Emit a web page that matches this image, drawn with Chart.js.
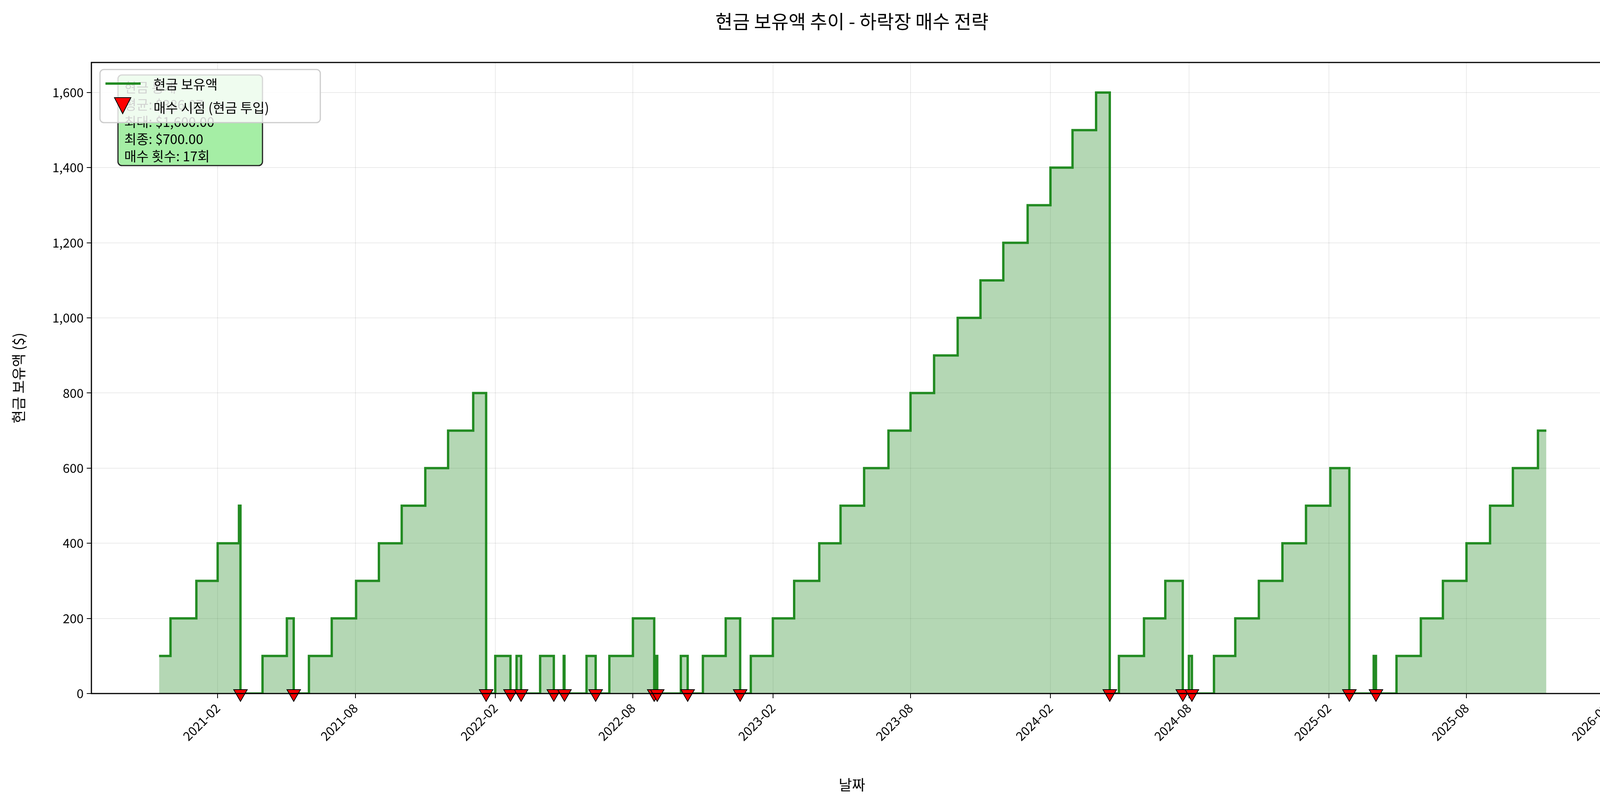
<!DOCTYPE html>
<html>
<head>
<meta charset="utf-8">
<script src="https://cdn.jsdelivr.net/npm/chart.js@4"></script>
<style>body{margin:0;background:#fff}</style>
</head>
<body>
<canvas id="grafico" width="4168" height="2064"></canvas>
<script>
// Datas em que o saldo muda e o saldo a partir dessa data
const datasSaldo = [
  "2020-11-16","2020-12-01","2021-01-04","2021-02-01","2021-03-01","2021-03-03",
  "2021-04-01","2021-05-03","2021-05-12",
  "2021-06-01","2021-07-01","2021-08-02","2021-09-01","2021-10-01","2021-11-01","2021-12-01","2022-01-03","2022-01-20",
  "2022-02-01","2022-02-21","2022-03-01","2022-03-07",
  "2022-04-01","2022-04-19","2022-05-02","2022-05-03",
  "2022-06-01","2022-06-13",
  "2022-07-01","2022-08-01","2022-08-29","2022-09-01","2022-09-02",
  "2022-10-03","2022-10-12",
  "2022-11-01","2022-12-01","2022-12-20",
  "2023-01-03","2023-02-01","2023-03-01","2023-04-03","2023-05-01","2023-06-01","2023-07-03","2023-08-01",
  "2023-09-01","2023-10-02","2023-11-01","2023-12-01","2024-01-02","2024-02-01","2024-03-01","2024-04-01","2024-04-19",
  "2024-05-01","2024-06-03","2024-07-01","2024-07-24","2024-08-01","2024-08-05",
  "2024-09-03","2024-10-01","2024-11-01","2024-12-02","2025-01-02","2025-02-03","2025-02-28",
  "2025-04-01","2025-04-04",
  "2025-05-01","2025-06-02","2025-07-01","2025-08-01","2025-09-01","2025-10-01","2025-11-03","2025-11-14"
];
const valoresSaldo = [
  100,200,300,400,500,0,
  100,200,0,
  100,200,300,400,500,600,700,800,0,
  100,0,100,0,
  100,0,100,0,
  100,0,
  100,200,0,100,0,
  100,0,
  100,200,0,
  100,200,300,400,500,600,700,800,
  900,1000,1100,1200,1300,1400,1500,1600,0,
  100,200,300,0,100,0,
  100,200,300,400,500,600,0,
  100,0,
  100,200,300,400,500,600,700,700
];
// Datas de compra (dinheiro investido)
const datasCompra = [
  "2021-03-03","2021-05-12","2022-01-20","2022-02-21","2022-03-07","2022-04-19","2022-05-03",
  "2022-06-13","2022-08-29","2022-09-02","2022-10-12","2022-12-20","2024-04-19","2024-07-24",
  "2024-08-05","2025-02-28","2025-04-04"
];
const ticksX = ["2021-02","2021-08","2022-02","2022-08","2023-02","2023-08","2024-02","2024-08","2025-02","2025-08","2026-02"];
const ticksY = [0,200,400,600,800,1000,1200,1400,1600];
const linhasEstatistica = ["현금 통계","평균: $386.07","최대: $1,600.00","최종: $700.00","매수 횟수: 17회"];

const fonte = '"Noto Sans CJK KR", "Noto Sans", sans-serif';
const ms = (d) => Date.parse(d + "T00:00:00Z");
const tickMs = ticksX.map((t) => ms(t + "-01"));

// Moldura, títulos, caixa de estatística e legenda
const extras = {
  id: "extras",
  afterDraw(chart) {
    const c = chart.ctx;
    const a = chart.chartArea;
    c.save();
    c.strokeStyle = "#000";
    c.lineWidth = 3;
    c.strokeRect(a.left, a.top, a.right - a.left, a.bottom - a.top);

    c.fillStyle = "#000";
    c.textAlign = "center";
    c.textBaseline = "middle";
    c.font = "48px " + fonte;
    c.fillText("현금 보유액 추이 - 하락장 매수 전략", (a.left + a.right) / 2, 55);
    c.font = "37px " + fonte;
    c.fillText("날짜", (a.left + a.right) / 2, 2010);
    c.save();
    c.translate(48, (a.top + a.bottom) / 2);
    c.rotate(-Math.PI / 2);
    c.fillText("현금 보유액 ($)", 0, 0);
    c.restore();

    // caixa de estatística
    c.beginPath();
    c.roundRect(302, 192, 370, 232, 10);
    c.fillStyle = "#a5eea5";
    c.fill();
    c.lineWidth = 3;
    c.strokeStyle = "#222";
    c.stroke();
    c.fillStyle = "#000";
    c.textAlign = "left";
    c.font = "34px " + fonte;
    linhasEstatistica.forEach((l, i) => c.fillText(l, 318, 224 + i * 44));

    // legenda
    c.beginPath();
    c.roundRect(256, 178, 564, 136, 10);
    c.fillStyle = "rgba(255,255,255,0.82)";
    c.fill();
    c.strokeStyle = "#ccc";
    c.lineWidth = 3;
    c.stroke();
    c.strokeStyle = "#228B22";
    c.lineWidth = 6;
    c.beginPath();
    c.moveTo(270, 214);
    c.lineTo(360, 214);
    c.stroke();
    c.beginPath();
    c.moveTo(293, 250);
    c.lineTo(335, 250);
    c.lineTo(314, 291);
    c.closePath();
    c.fillStyle = "red";
    c.fill();
    c.strokeStyle = "#000";
    c.lineWidth = 2;
    c.stroke();
    c.fillStyle = "#000";
    c.fillText("현금 보유액", 393, 216);
    c.fillText("매수 시점 (현금 투입)", 393, 276);
    c.restore();
  }
};

const ctx = document.getElementById("grafico").getContext("2d");
new Chart(ctx, {
  type: "line",
  data: {
    datasets: [
      {
        label: "현금 보유액",
        data: datasSaldo.map((d, i) => ({ x: ms(d), y: valoresSaldo[i] })),
        borderColor: "#228B22",
        borderWidth: 6,
        backgroundColor: "rgba(34,139,34,0.34)",
        fill: "origin",
        stepped: "before",
        pointRadius: 0,
        order: 2
      },
      {
        type: "scatter",
        label: "매수 시점 (현금 투입)",
        data: datasCompra.map((d) => ({ x: ms(d), y: 0 })),
        pointStyle: "triangle",
        rotation: 180,
        pointRadius: 20,
        backgroundColor: "red",
        borderColor: "#000",
        borderWidth: 2,
        clip: false,
        order: 1
      }
    ]
  },
  options: {
    responsive: false,
    devicePixelRatio: 1,
    animation: false,
    layout: { padding: { top: 160, right: 40, left: 0, bottom: 0 } },
    plugins: { legend: { display: false }, title: { display: false }, tooltip: { enabled: false } },
    scales: {
      x: {
        type: "linear",
        min: ms("2020-08-19"),
        max: ms("2026-02-09"),
        afterBuildTicks: (s) => { s.ticks = tickMs.map((v) => ({ value: v })); },
        afterFit: (s) => { s.height = 288; },
        ticks: {
          minRotation: 45,
          maxRotation: 45,
          font: { size: 32, family: fonte },
          color: "#000",
          padding: 6,
          callback: (v) => ticksX[tickMs.indexOf(v)]
        },
        grid: { color: "rgba(0,0,0,0.08)", lineWidth: 2, tickColor: "#000", tickLength: 12 },
        border: { display: false }
      },
      y: {
        min: 0,
        max: 1680,
        afterBuildTicks: (s) => { s.ticks = ticksY.map((v) => ({ value: v })); },
        afterFit: (s) => { s.width = 234; },
        ticks: { font: { size: 32, family: fonte }, color: "#000", padding: 8 },
        grid: { color: "rgba(0,0,0,0.08)", lineWidth: 2, tickColor: "#000", tickLength: 12 },
        border: { display: false }
      }
    }
  },
  plugins: [extras]
});
</script>
</body>
</html>
